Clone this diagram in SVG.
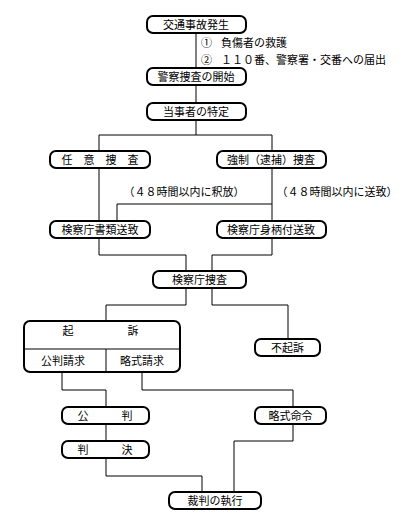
<svg xmlns="http://www.w3.org/2000/svg" width="420" height="520" viewBox="0 0 420 520">
<style>
.n rect{fill:#fff;stroke:#000;stroke-width:2}
text{font-family:"Noto Sans CJK JP","Noto Sans CJK SC",sans-serif;font-size:11px;fill:#000}
.c{text-anchor:middle}
#connectors path,#connectors line{fill:none;stroke:#000;stroke-width:1}
</style>
<rect width="420" height="520" fill="#fff"/>
<g id="connectors">
<line x1="196" y1="33" x2="196" y2="135"/>
<path d="M99,151 V135 H272 V151"/>
<line x1="99" y1="168" x2="99" y2="221"/>
<line x1="272" y1="168" x2="272" y2="221"/>
<path d="M117,221 V204 H272"/>
<path d="M99,238 V255 H186 V271"/>
<path d="M272,238 V255 H212 V271"/>
<path d="M186,288 V305 H106 V321"/>
<path d="M212,288 V305 H288 V339"/>
<path d="M62,372 V390 H106 V407"/>
<path d="M142,372 V390 H293 V407"/>
<line x1="106" y1="424" x2="106" y2="441"/>
<path d="M106,458 V476 H202 V492"/>
<path d="M293,424 V441 H234 V492"/>
</g>
<g id="n1" class="n"><rect x="147" y="16" width="99" height="17" rx="6"/><text class="c" x="196" y="28.5">交通事故発生</text></g>
<g id="notes">
<text x="201" y="47">①</text><text x="221" y="47">負傷者の救護</text>
<text x="201" y="64">②</text><text x="221" y="64">１１０番、警察署・交番への届出</text>
</g>
<g id="n2" class="n"><rect x="147" y="68" width="99" height="17" rx="6"/><text class="c" x="196" y="80.5">警察捜査の開始</text></g>
<g id="n3" class="n"><rect x="147" y="103" width="99" height="17" rx="6"/><text class="c" x="196" y="115.5">当事者の特定</text></g>
<g id="n4" class="n"><rect x="50" y="151" width="100" height="17" rx="6"/><text class="c" x="100" y="163.5">任　意　捜　査</text></g>
<g id="n5" class="n"><rect x="217" y="151" width="109" height="17" rx="6"/><text class="c" x="271" y="163.5">強制（逮捕）捜査</text></g>
<g id="labels">
<text class="c" x="184" y="196">（４８時間以内に釈放）</text>
<text class="c" x="337" y="196">（４８時間以内に送致）</text>
</g>
<g id="n6" class="n"><rect x="50" y="221" width="100" height="17" rx="6"/><text class="c" x="100" y="233.5">検察庁書類送致</text></g>
<g id="n7" class="n"><rect x="217" y="221" width="109" height="17" rx="6"/><text class="c" x="271" y="233.5">検察庁身柄付送致</text></g>
<g id="n8" class="n"><rect x="153" y="271" width="93" height="17" rx="6"/><text class="c" x="199.5" y="283.5">検察庁捜査</text></g>
<g id="n9" class="n"><rect x="24" y="321" width="156" height="51" rx="6"/>
<line x1="24" y1="349" x2="180" y2="349" stroke="#000" stroke-width="1"/>
<line x1="106" y1="349" x2="106" y2="372" stroke="#000" stroke-width="1"/>
<text class="c" x="68" y="335">起</text><text class="c" x="133" y="335">訴</text>
<text class="c" x="63" y="365">公判請求</text><text class="c" x="142" y="365">略式請求</text></g>
<g id="n10" class="n"><rect x="255" y="339" width="65" height="17" rx="6"/><text class="c" x="287.5" y="351.5">不起訴</text></g>
<g id="n11" class="n"><rect x="62" y="407" width="87" height="17" rx="6"/><text class="c" x="105" y="419.5">公　　　判</text></g>
<g id="n12" class="n"><rect x="255" y="407" width="71" height="17" rx="6"/><text class="c" x="290.5" y="419.5">略式命令</text></g>
<g id="n13" class="n"><rect x="62" y="441" width="87" height="17" rx="6"/><text class="c" x="105" y="453.5">判　　　決</text></g>
<g id="n14" class="n"><rect x="169" y="492" width="92" height="17" rx="6"/><text class="c" x="215" y="504.5">裁判の執行</text></g>
</svg>
